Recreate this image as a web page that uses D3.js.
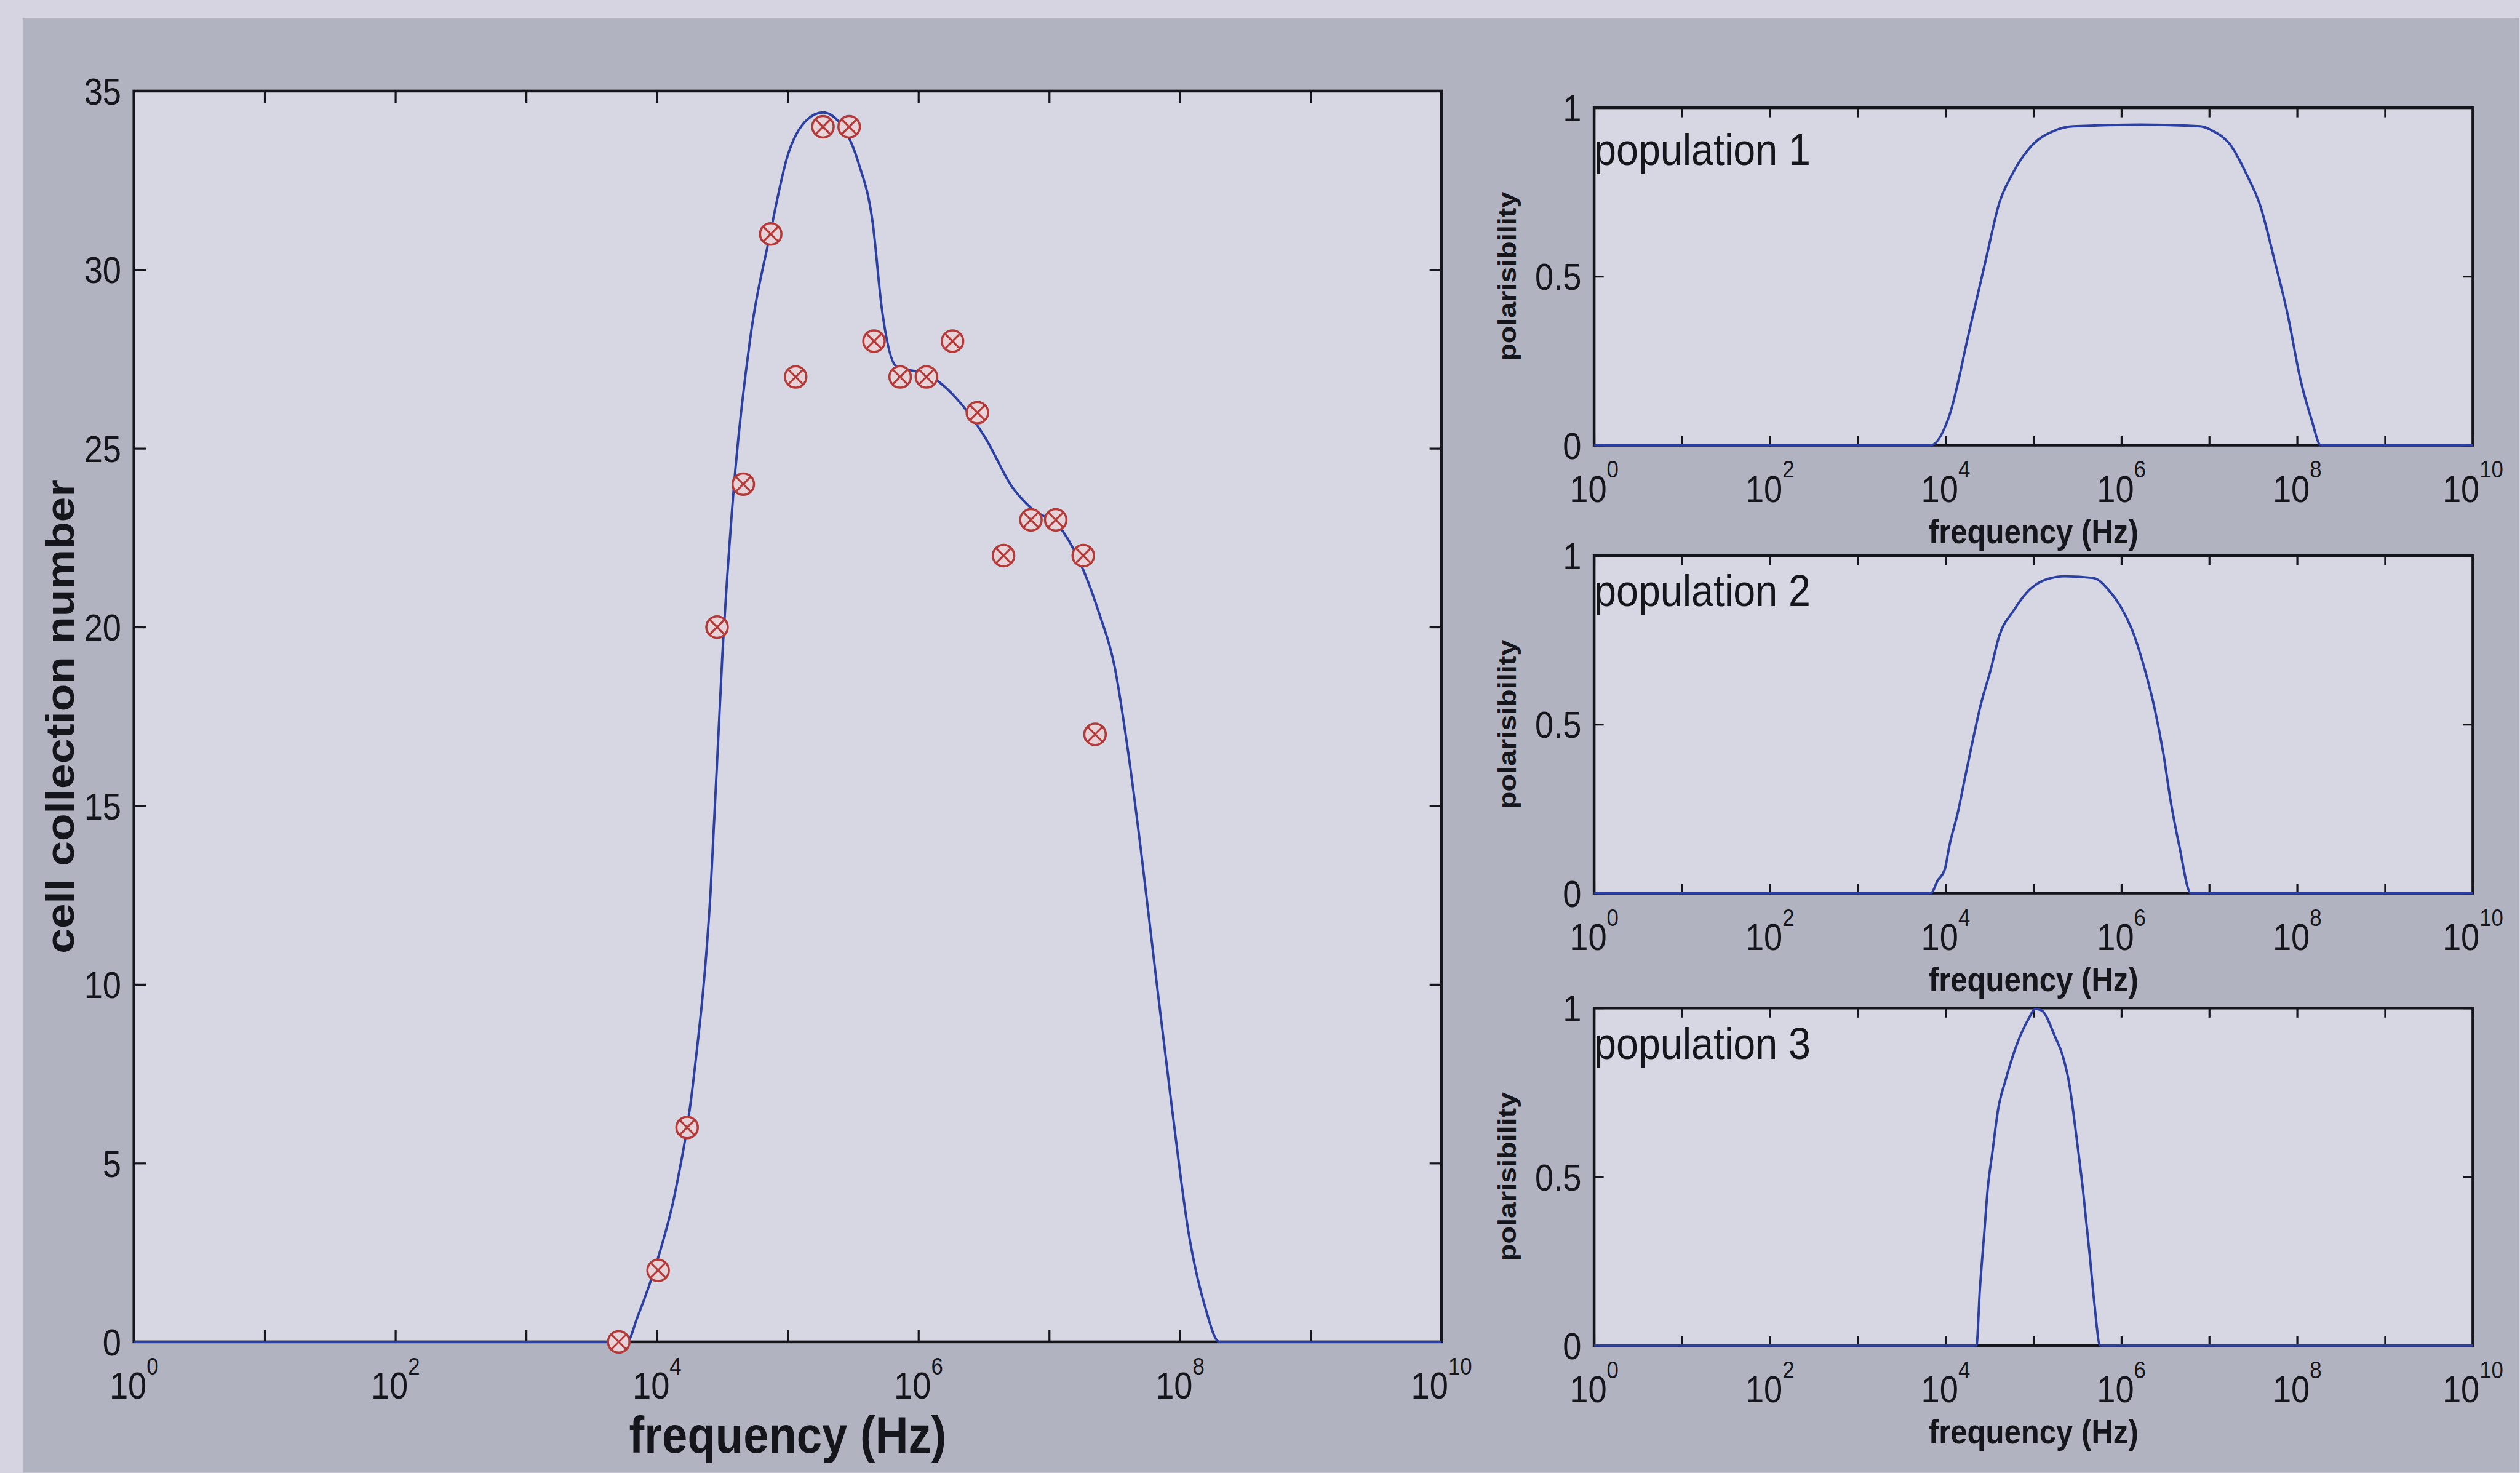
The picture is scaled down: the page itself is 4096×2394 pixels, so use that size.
<!DOCTYPE html>
<html>
<head>
<meta charset="utf-8">
<script src="https://cdn.jsdelivr.net/npm/d3@7"></script>
<style>
  html, body { margin: 0; padding: 0; background: #d5d4e0; }
  svg { display: block; }
  text { font-family: "Liberation Sans", Arial, Helvetica, sans-serif; fill: #15151c; }
</style>
</head>
<body>
<div id="chart"></div>
<script>
// measured cell collection at each frequency (Hz)
const sampleFreq = [5.1e3, 1.02e4, 1.7e4, 2.88e4, 4.57e4, 7.41e4, 1.15e5, 1.86e5, 2.95e5, 4.57e5,
                    7.24e5, 1.15e6, 1.82e6, 2.82e6, 4.47e6, 7.24e6, 1.12e7, 1.82e7, 2.24e7];
const sampleCount = [0, 2, 6, 20, 24, 31, 27, 34, 34, 28, 27, 27, 28, 26, 22, 23, 23, 22, 17];

// fitted collection curve
const fitFreq = [1, 5.9e3, 7.1e3, 1.0e4, 1.38e4, 1.91e4, 2.57e4, 3.16e4, 3.89e4, 5.13e4, 7.24e4,
                 1.0e5, 1.41e5, 1.86e5, 2.51e5, 3.47e5, 4.47e5, 5.25e5, 6.76e5, 1.2e6, 1.95e6,
                 3.24e6, 5.25e6, 7.41e6, 1.2e7, 1.82e7, 2.4e7, 3.16e7, 3.98e7, 5.01e7, 6.46e7,
                 8.71e7, 1.17e8, 1.55e8, 2.0e8, 1e10];
const fitCount = [0, 0, 0.7, 2.25, 4.2, 7.4, 12.6, 19.2, 24.0, 28.0, 30.9,
                  33.2, 34.2, 34.4, 34.1, 33.0, 31.3, 28.9, 27.3, 27.05, 26.4,
                  25.3, 23.9, 23.3, 22.8, 21.6, 20.4, 18.9, 16.6, 13.8, 10.4,
                  6.5, 3.0, 1.0, 0, 0];

// polarisability of the three populations
const pop1Freq = [1, 6.8e3, 1.1e4, 1.86e4, 2.88e4, 4.07e4, 5.75e4, 9.8e4, 1.66e5, 2.82e5, 1.62e6,
                  7.94e6, 1.12e7, 1.74e7, 2.69e7, 3.8e7, 5.5e7, 7.76e7, 1.1e8, 1.45e8, 1.86e8, 1e10];
const pop1Pol = [0, 0, 0.087, 0.339, 0.552, 0.717, 0.804, 0.891, 0.93, 0.945, 0.95,
                 0.945, 0.93, 0.89, 0.80, 0.71, 0.55, 0.39, 0.19, 0.078, 0, 0];

const pop2Freq = [1, 6.8e3, 8.1e3, 9.8e3, 1.1e4, 1.38e4, 1.66e4, 2.0e4, 2.51e4, 3.24e4, 4.07e4,
                  5.89e4, 8.32e4, 1.45e5, 2.29e5, 4.79e5, 7.24e5, 9.77e5, 1.38e6, 1.86e6, 2.4e6,
                  3.02e6, 3.63e6, 4.57e6, 6.17e6, 1e10];
const pop2Pol = [0, 0, 0.037, 0.071, 0.139, 0.24, 0.342, 0.443, 0.559, 0.66, 0.762,
                 0.836, 0.89, 0.931, 0.939, 0.934, 0.897, 0.85, 0.768, 0.66, 0.545,
                 0.41, 0.274, 0.139, 0, 0];

const pop3Freq = [1, 2.24e4, 2.45e4, 2.75e4, 3.02e4, 3.39e4, 3.98e4, 4.79e4, 6.46e4, 8.71e4,
                  1.05e5, 1.23e5, 1.78e5, 2.14e5, 2.57e5, 3.02e5, 3.63e5, 4.37e5, 4.9e5, 5.75e5, 1e10];
const pop3Pol = [0, 0, 0.165, 0.333, 0.468, 0.569, 0.704, 0.785, 0.892, 0.966,
                 0.997, 0.993, 0.912, 0.86, 0.771, 0.636, 0.468, 0.266, 0.131, 0, 0];

const populationNames = ["population 1", "population 2", "population 3"];
const countTicks = [0, 5, 10, 15, 20, 25, 30, 35];
const polTicks = [0, 0.5, 1];
const polTickLabels = ["0", "0.5", "1"];
const decadeExponents = [0, 1, 2, 3, 4, 5, 6, 7, 8, 9, 10];
const labelExponents = [0, 2, 4, 6, 8, 10];

// drawing is done in reference pixels, then shrunk to the window
const K = 0.646, S = 1.13;   // S: the photo is a bit stretched vertically
const W = 6339, H = 3705;
const ink = "#15151c", blue = "#2c3fa2", red = "#b33a38";

const svg = d3.select("#chart").append("svg")
    .attr("width", 4096)
    .attr("height", 2394);
const root = svg.append("g").attr("transform", `scale(${K})`);

root.append("rect").attr("width", W).attr("height", H).attr("fill", "#d5d4e0");
root.append("rect").attr("x", 57).attr("y", 45)
    .attr("width", W - 57).attr("height", H - 45)
    .attr("fill", "#b1b4c0");

// text with the photo's vertical stretch
function label(g, x, y, str, size, opts = {}) {
    const t = g.append("text")
        .attr("transform", `translate(${x},${y}) scale(1,${S})` + (opts.rotate ? " rotate(-90)" : ""))
        .attr("font-size", size)
        .attr("font-weight", opts.bold ? "bold" : "normal")
        .attr("text-anchor", opts.anchor || "start")
        .text(str);
    if (opts.dy) t.attr("dy", opts.dy);
    return t;
}

function powLabel(g, x, y, e, size) {
    const t = g.append("text")
        .attr("transform", `translate(${x},${y}) scale(1,${S})`)
        .attr("font-size", size)
        .attr("text-anchor", "middle");
    t.append("tspan").text("10");
    t.append("tspan").attr("font-size", size * 0.64).attr("dy", -54).text(e);
}

function drawPanel(box, xs, ys, yTicks, yLabels, tickLen, lineFreq, lineVal) {
    const g = root.append("g");
    g.append("rect")
        .attr("x", box.left).attr("y", box.top)
        .attr("width", box.right - box.left).attr("height", box.bottom - box.top)
        .attr("fill", "#d6d7e3");

    const decades = decadeExponents.map(e => Math.pow(10, e));
    const tickStyle = a => a.selectAll("line").attr("stroke", ink).attr("stroke-width", 5);
    const strip = a => { a.select(".domain").remove(); a.selectAll("text").remove(); tickStyle(a); };

    g.append("g").attr("transform", `translate(0,${box.bottom})`)
        .call(d3.axisBottom(xs).tickValues(decades).tickSize(-tickLen).tickFormat(""))
        .call(strip);
    g.append("g").attr("transform", `translate(0,${box.top})`)
        .call(d3.axisTop(xs).tickValues(decades).tickSize(-tickLen).tickFormat(""))
        .call(strip);
    g.append("g").attr("transform", `translate(${box.left},0)`)
        .call(d3.axisLeft(ys).tickValues(yTicks).tickSize(-tickLen).tickFormat(""))
        .call(strip);
    g.append("g").attr("transform", `translate(${box.right},0)`)
        .call(d3.axisRight(ys).tickValues(yTicks).tickSize(-tickLen).tickFormat(""))
        .call(strip);

    g.append("rect")
        .attr("x", box.left).attr("y", box.top)
        .attr("width", box.right - box.left).attr("height", box.bottom - box.top)
        .attr("fill", "none").attr("stroke", ink).attr("stroke-width", 7);

    yTicks.forEach((v, i) => {
        label(g, box.left - 32, ys(v), yLabels[i], 84, { anchor: "end", dy: "0.36em" });
    });
    labelExponents.forEach(e => {
        powLabel(g, xs(Math.pow(10, e)), box.bottom + 143, e, 84);
    });

    const line = d3.line()
        .x((d, i) => xs(lineFreq[i]))
        .y(d => ys(d))
        .curve(d3.curveMonotoneX);
    g.append("path")
        .attr("d", line(lineVal))
        .attr("fill", "none")
        .attr("stroke", blue)
        .attr("stroke-width", 6)
        .attr("stroke-linejoin", "round");
    return g;
}

// ---- main plot ----
const main = { left: 337, right: 3627, top: 229, bottom: 3376 };
const xMain = d3.scaleLog().domain([1, 1e10]).range([main.left, main.right]);
const yMain = d3.scaleLinear().domain([0, 35]).range([main.bottom, main.top]);
const gMain = drawPanel(main, xMain, yMain, countTicks, countTicks.map(String), 30, fitFreq, fitCount);

const mk = gMain.append("g").selectAll("g")
    .data(sampleCount)
    .join("g")
    .attr("transform", (d, i) => `translate(${xMain(sampleFreq[i])},${yMain(d)})`);
mk.append("circle").attr("r", 27)
    .attr("fill", "#e7d2d8").attr("stroke", red).attr("stroke-width", 5.5);
mk.append("path").attr("d", "M-19,-19L19,19M-19,19L19,-19")
    .attr("stroke", red).attr("stroke-width", 5);

label(root, (main.left + main.right) / 2, 3655, "frequency (Hz)", 115, { bold: true, anchor: "middle" });
label(root, 186, (main.top + main.bottom) / 2, "cell collection number", 100, { bold: true, anchor: "middle", rotate: true });

// ---- population panels ----
const panelTops = [271, 1398, 2536];
const panelNameOffsets = [144, 126, 128];
const panelH = 849;
const popFreq = [pop1Freq, pop2Freq, pop3Freq];
const popPol = [pop1Pol, pop2Pol, pop3Pol];

panelTops.forEach((top, k) => {
    const box = { left: 4011, right: 6222, top: top, bottom: top + panelH };
    const xs = d3.scaleLog().domain([1, 1e10]).range([box.left, box.right]);
    const ys = d3.scaleLinear().domain([0, 1]).range([box.bottom, box.top]);
    const g = drawPanel(box, xs, ys, polTicks, polTickLabels, 24, popFreq[k], popPol[k]);
    label(g, box.left, box.top + panelNameOffsets[k], populationNames[k], 100);
    label(g, 3815, (box.top + box.bottom) / 2, "polarisibility", 64, { bold: true, anchor: "middle", rotate: true });
    label(g, (box.left + box.right) / 2, box.bottom + 247, "frequency (Hz)", 76, { bold: true, anchor: "middle" });
});
</script>
</body>
</html>
